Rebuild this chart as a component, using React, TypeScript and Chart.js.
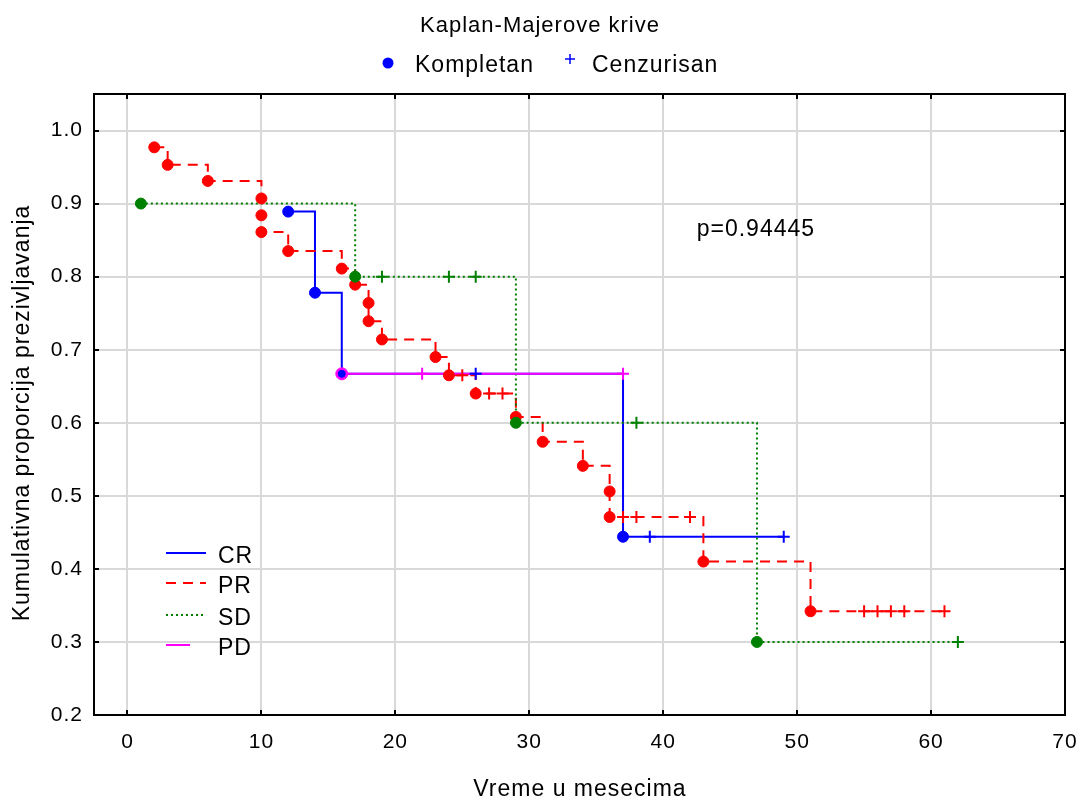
import React, { useEffect, useRef } from 'react';
import { Chart, registerables } from 'chart.js';

Chart.register(...registerables);

// ---------- data ----------
const seriesNames = ['CR', 'PR', 'SD', 'PD'];

const crTime = [12, 14, 16, 26, 37, 39, 49];
const crSurv = [0.889, 0.778, 0.667, 0.667, 0.444, 0.444, 0.444];
const crCensored = [0, 0, 0, 1, 0, 1, 1];

const prTime = [2, 3, 6, 10, 10, 10, 12, 16, 17, 18, 18, 19, 23, 24, 25, 26, 27, 28, 29, 31, 34, 36, 36, 37, 38, 42, 43, 51, 55, 56, 57, 58, 61];
const prSurv = [0.977, 0.953, 0.931, 0.907, 0.884, 0.861, 0.835, 0.811, 0.789, 0.764, 0.739, 0.714, 0.69, 0.665, 0.665, 0.64, 0.64, 0.64, 0.608, 0.574, 0.541, 0.506, 0.471, 0.471, 0.471, 0.471, 0.41, 0.342, 0.342, 0.342, 0.342, 0.342, 0.342];
const prCensored = [0, 0, 0, 0, 0, 0, 0, 0, 0, 0, 0, 0, 0, 0, 1, 0, 1, 1, 0, 0, 0, 0, 0, 1, 1, 1, 0, 0, 1, 1, 1, 1, 1];

const sdTime = [1, 17, 19, 24, 26, 29, 38, 47, 62];
const sdSurv = [0.9, 0.8, 0.8, 0.8, 0.8, 0.6, 0.6, 0.3, 0.3];
const sdCensored = [0, 0, 1, 1, 1, 0, 1, 0, 1];

const pdTime = [16, 22, 37];
const pdSurv = [0.667, 0.667, 0.667];
const pdCensored = [0, 1, 1];

const xTickMin = -2.5;
const xTickMax = 70;
const yTickMin = 0.2;
const yTickMax = 1.05;

const titleText = 'Kaplan-Majerove krive';
const legendEvent = 'Kompletan';
const legendCensor = 'Cenzurisan';
const xTitle = 'Vreme u mesecima';
const yTitle = 'Kumulativna proporcija prezivljavanja';
const pValueText = 'p=0.94445';
const pValueAt = [42.5, 0.864];

// ---------- styles ----------
const FONT = '"Liberation Sans", Arial, sans-serif';
const COLORS = ['#0000ff', '#ff0000', '#008000', '#ff00ff'];
const DASHES: number[][] = [[], [10, 7], [2, 3], []];

const series = [
  { t: crTime, s: crSurv, c: crCensored },
  { t: prTime, s: prSurv, c: prCensored },
  { t: sdTime, s: sdSurv, c: sdCensored },
  { t: pdTime, s: pdSurv, c: pdCensored },
];

const toPoints = (t: number[], s: number[]) => t.map((v, i) => ({ x: v, y: s[i] }));

const decorPlugin = {
  id: 'decor',
  beforeDraw(chart: any) {
    chart.ctx.letterSpacing = '1px';
  },
  afterDraw(chart: any) {
    const { ctx, chartArea: a, scales } = chart;
    const xs = scales.x;
    const ys = scales.y;
    ctx.save();
    ctx.letterSpacing = '1px';
    // frame
    ctx.strokeStyle = '#000';
    ctx.lineWidth = 2;
    ctx.setLineDash([]);
    ctx.strokeRect(a.left, a.top, a.right - a.left, a.bottom - a.top);
    // inside ticks on all four sides
    ctx.beginPath();
    xs.ticks.forEach((tk: any) => {
      const px = Math.round(xs.getPixelForValue(tk.value));
      ctx.moveTo(px, a.bottom);
      ctx.lineTo(px, a.bottom - 5);
      ctx.moveTo(px, a.top);
      ctx.lineTo(px, a.top + 5);
    });
    ys.ticks.forEach((tk: any) => {
      const py = Math.round(ys.getPixelForValue(tk.value));
      ctx.moveTo(a.left, py);
      ctx.lineTo(a.left + 5, py);
      ctx.moveTo(a.right, py);
      ctx.lineTo(a.right - 5, py);
    });
    ctx.stroke();

    ctx.fillStyle = '#000';
    // title
    ctx.font = `22px ${FONT}`;
    ctx.textAlign = 'center';
    ctx.textBaseline = 'alphabetic';
    ctx.fillText(titleText, 540, 32);

    // top legend
    ctx.fillStyle = '#0000ff';
    ctx.beginPath();
    ctx.arc(388, 63, 5.5, 0, Math.PI * 2);
    ctx.fill();
    ctx.strokeStyle = '#0000ff';
    ctx.lineWidth = 1.5;
    ctx.beginPath();
    ctx.moveTo(565, 59);
    ctx.lineTo(575, 59);
    ctx.moveTo(570, 54);
    ctx.lineTo(570, 64);
    ctx.stroke();
    ctx.fillStyle = '#000';
    ctx.font = `23px ${FONT}`;
    ctx.textAlign = 'left';
    ctx.fillText(legendEvent, 415, 72);
    ctx.fillText(legendCensor, 592, 72);

    // axis titles
    ctx.textAlign = 'center';
    ctx.fillText(xTitle, 580, 796);
    ctx.save();
    ctx.translate(29, 413);
    ctx.rotate(-Math.PI / 2);
    ctx.fillText(yTitle, 0, 0);
    ctx.restore();

    // p value annotation
    ctx.textAlign = 'left';
    ctx.textBaseline = 'middle';
    ctx.fillText(pValueText, xs.getPixelForValue(pValueAt[0]), ys.getPixelForValue(pValueAt[1]));

    // inside legend
    const lineYs = [553, 583, 615, 645];
    const lineLens = [40, 40, 40, 24];
    ctx.textBaseline = 'alphabetic';
    seriesNames.forEach((name, i) => {
      ctx.strokeStyle = COLORS[i];
      ctx.lineWidth = 2;
      ctx.setLineDash(DASHES[i]);
      ctx.beginPath();
      ctx.moveTo(166, lineYs[i]);
      ctx.lineTo(166 + lineLens[i], lineYs[i]);
      ctx.stroke();
      ctx.setLineDash([]);
      ctx.fillStyle = '#000';
      ctx.fillText(name, 218, lineYs[i] + 10);
    });
    ctx.restore();
  },
};

export default function App() {
  const canvasRef = useRef<HTMLCanvasElement | null>(null);

  useEffect(() => {
    const canvas = canvasRef.current;
    if (!canvas) return;

    const lineOrder = [10, 9, 8, 7];
    const markerOrder = [5, 4, 3, 6];

    const lineSets = series.map((sr, i) => ({
      type: 'line' as const,
      label: seriesNames[i],
      data: toPoints(sr.t, sr.s),
      borderColor: COLORS[i],
      borderWidth: 2,
      borderDash: DASHES[i],
      stepped: 'before' as const,
      pointRadius: 0,
      fill: false,
      order: lineOrder[i],
    }));

    const markerSets = series.map((sr, i) => ({
      type: 'line' as const,
      label: seriesNames[i] + ' markers',
      data: toPoints(sr.t, sr.s),
      showLine: false,
      borderColor: COLORS[i],
      backgroundColor: COLORS[i],
      pointStyle: (c: any) => (sr.c[c.dataIndex] ? 'cross' : 'circle'),
      pointRadius: (c: any) => {
        if (sr.c[c.dataIndex]) return 6;
        if (i === 3) return 6;
        if (i === 0) {
          const t = sr.t[c.dataIndex];
          const s = sr.s[c.dataIndex];
          const hit = pdTime.some((pt, k) => !pdCensored[k] && pt === t && pdSurv[k] === s);
          if (hit) return 3.5;
        }
        return 5.5;
      },
      pointBorderWidth: (c: any) => (sr.c[c.dataIndex] ? 2 : 1),
      pointBorderColor: COLORS[i],
      pointBackgroundColor: COLORS[i],
      order: markerOrder[i],
    }));

    const chart = new Chart(canvas, {
      type: 'line',
      data: { datasets: [...lineSets, ...markerSets] as any },
      options: {
        responsive: false,
        animation: false,
        events: [],
        layout: { padding: { left: 0, top: 94, right: 15, bottom: 0 } },
        plugins: {
          legend: { display: false },
          tooltip: { enabled: false },
          title: { display: false },
        },
        scales: {
          x: {
            type: 'linear',
            min: xTickMin,
            max: xTickMax,
            afterFit: (s: any) => {
              s.height = 85;
              s.paddingLeft = 0;
              s.paddingRight = 0;
            },
            border: { display: false },
            grid: { color: '#d9d9d9', lineWidth: 2, drawTicks: false },
            ticks: {
              stepSize: 10,
              includeBounds: false,
              padding: 15,
              color: '#000',
              font: { family: FONT, size: 21 },
              maxRotation: 0,
              callback: (v: any) => String(v),
            },
          },
          y: {
            type: 'linear',
            min: yTickMin,
            max: yTickMax,
            afterFit: (s: any) => {
              s.width = 94;
              s.paddingTop = 0;
              s.paddingBottom = 0;
            },
            border: { display: false },
            grid: { color: '#d9d9d9', lineWidth: 2, drawTicks: false },
            ticks: {
              stepSize: 0.1,
              includeBounds: false,
              padding: 11,
              color: '#000',
              font: { family: FONT, size: 21 },
              callback: (v: any) => Number(v).toFixed(1),
            },
          },
        },
      },
      plugins: [decorPlugin],
    });

    return () => chart.destroy();
  }, []);

  return (
    <div style={{ position: 'fixed', left: 0, top: 0, width: 1080, height: 800, background: '#fff' }}>
      <canvas ref={canvasRef} width={1080} height={800} style={{ display: 'block' }} />
    </div>
  );
}
